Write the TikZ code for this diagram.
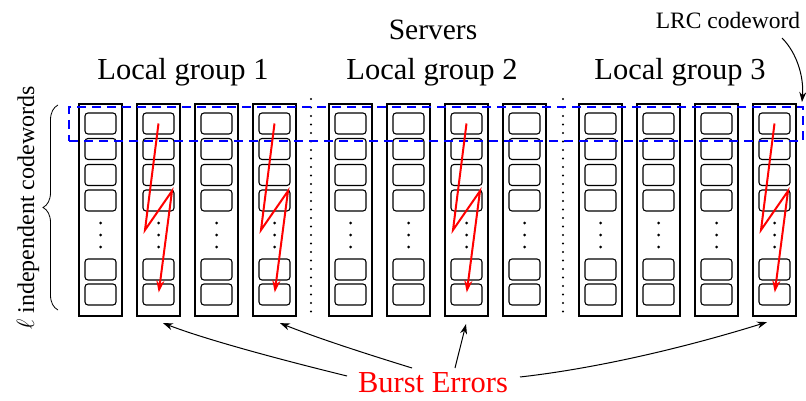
\documentclass[tikz,border=0pt]{standalone}
\usepackage{fontspec}
\setmainfont{Liberation Serif}
\usetikzlibrary{arrows.meta,decorations.pathreplacing,calc}
\begin{document}
\begin{tikzpicture}[x=1pt,y=-1pt,
  colbox/.style={draw,line width=2.2pt,minimum width=43pt,minimum height=212pt,inner sep=0pt},
  cellbox/.style={draw,line width=1.1pt,rounded corners=3pt,minimum width=31pt,minimum height=21pt,inner sep=0pt},
  zig/.style={draw=red,line width=2pt,-{Stealth[length=12pt,width=8pt]},shorten >=2pt},
  ptr/.style={draw,line width=1pt,-{Stealth[length=10pt,width=7pt]}},
  lrcstyle/.style={draw=blue,line width=2pt,dash pattern=on 9pt off 6pt,minimum width=734pt,minimum height=34pt,inner sep=0pt},
  sepline/.style={line width=2.2pt,line cap=round,dash pattern=on 0pt off 8.5pt},
  big/.style={font=\fontsize{30.5}{35}\selectfont,inner sep=0pt},
  mid/.style={font=\fontsize{23.5}{28}\selectfont,inner sep=0pt}]
\useasboundingbox (0,0) rectangle (806,401);

% columns
\foreach \g in {0,1,2}{
  \foreach \k in {0,...,3}{
    \pgfmathsetmacro{\cx}{79+250*\g+58*\k+21.5}
    \pgfmathtruncatemacro{\n}{4*\g+\k+1}
    \node[colbox] (c\n) at (\cx,210) {};
    \foreach \yy [count=\i] in {123.5,149,175,200.5,269.5,294.5}
      \node[cellbox] (c\n-\i) at (\cx,\yy) {};
    \foreach \yy in {223,235,247}
      \fill (\cx,\yy) circle (1.5pt);
  }
}

% separators
\draw[sepline] (311,99) -- (311,318);
\draw[sepline] (563,99) -- (563,318);

% LRC codeword box
\node[lrcstyle] (lrc) at (436,124) {};

% burst zigzags
\foreach \n in {2,4,7,12}
  \draw[zig] (c\n-1.center) -- ++(-13.5,106.5) -- ++(27,-39) -- (c\n-6.center);

% labels
\node[big,font=\fontsize{29.5}{34}\selectfont] (servers) at (433,30) {Servers};
\node[big] (g1) at (183,72) {Local group 1};
\node[big] (g2) at (432,72) {Local group 2};
\node[big] (g3) at (680,72) {Local group 3};
\node[mid] (lrclabel) at (728,20) {LRC codeword};
\node[font=\fontsize{24}{28}\selectfont,inner sep=0pt,rotate=90] (ind) at (28,208) {$\ell$ independent codewords};
\node[big,text=red] (burst) at (433,383) {Burst Errors};

% brace
\draw[line width=0.8pt,decorate,decoration={brace,amplitude=15pt}] (58,310) -- (58,105);

% LRC pointer
\draw[ptr] ($(lrclabel.center)+(54,18)$) .. controls +(15,15) and +(2,-25) .. ($(lrc.north east)+(-2,-4)$);

% burst pointers
\draw[ptr] ($(burst.center)+(-86,-7)$) .. controls +(-57,-14) and +(47,18) .. ($(c2.south)+(4.5,6)$);
\draw[ptr] ($(burst.center)+(-21,-15)$) .. controls +(-42,-13) and +(40,16) .. ($(c4.south)+(5.5,6)$);
\draw[ptr] ($(burst.center)+(22,-15)$) -- ($(c7.south)+(-0.5,7)$);
\draw[ptr] ($(burst.center)+(87,-6)$) .. controls +(80,-9) and +(-77,24) .. ($(c12.south)+(-7.5,5)$);
\end{tikzpicture}
\end{document}
